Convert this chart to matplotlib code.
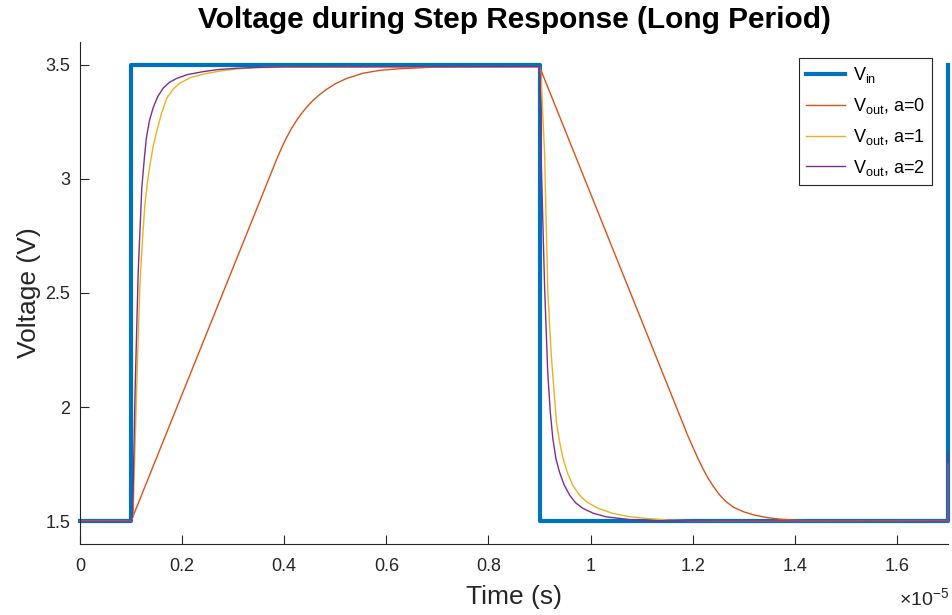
import numpy as np
import matplotlib
matplotlib.use("Agg")
import matplotlib.pyplot as plt
from matplotlib.ticker import FuncFormatter

plt.rcParams['font.family'] = ['Liberation Sans', 'DejaVu Sans']
plt.rcParams['mathtext.fontset'] = 'custom'
plt.rcParams['mathtext.rm'] = 'Liberation Sans'
plt.rcParams['mathtext.it'] = 'Liberation Sans:italic'
plt.rcParams['mathtext.bf'] = 'Liberation Sans:bold'

# times in microseconds
t_in = [0.0, 1.0, 1.0, 9.0, 9.0, 17.0, 17.0]
v_in = [1.5, 1.5, 3.5, 3.5, 1.5, 1.5, 3.5]

t_a0 = [0.0, 1.0, 3.85, 3.95, 4.05, 4.15, 4.25, 4.35, 4.45, 4.55, 4.68, 4.82, 5.0,
        5.22, 5.54, 5.85, 6.2, 6.85, 7.6, 9.0,
        11.8, 11.9, 12.0, 12.1, 12.2, 12.3, 12.4, 12.52, 12.65, 12.8, 13.0, 13.2,
        13.45, 13.7, 14.0, 14.4, 15.0, 17.0]
v_a0 = [1.5, 1.5, 3.085, 3.137, 3.183, 3.224, 3.259, 3.29, 3.317, 3.341, 3.367,
        3.391, 3.417, 3.44, 3.463, 3.475, 3.482, 3.489, 3.491, 3.492,
        1.933, 1.877, 1.826, 1.776, 1.73, 1.689, 1.654, 1.617, 1.586, 1.561, 1.541,
        1.527, 1.516, 1.509, 1.504, 1.501, 1.5, 1.5]

t_a1 = [0.0, 1.0, 1.04, 1.11, 1.17, 1.22, 1.27, 1.32, 1.37, 1.43, 1.50, 1.60, 1.70,
        1.82, 1.96, 2.15, 2.41, 2.75, 3.07, 3.4, 4.0, 9.0, 9.03, 9.10, 9.16, 9.23,
        9.33, 9.40, 9.46, 9.55, 9.65, 9.78, 9.92, 10.15, 10.44, 10.75, 11.09, 11.5,
        12.0, 17.0, 17.0]
v_a1 = [1.5, 1.5, 1.52, 2.083, 2.52, 2.72, 2.886, 2.985, 3.06, 3.14, 3.207, 3.29,
        3.354, 3.393, 3.42, 3.443, 3.459, 3.473, 3.482, 3.487, 3.49, 3.492, 3.45,
        3.105, 2.52, 2.228, 1.935, 1.84, 1.775, 1.71, 1.658, 1.615, 1.585, 1.556,
        1.534, 1.52, 1.512, 1.505, 1.502, 1.5, 1.75]

t_a2 = [0.0, 1.0, 1.03, 1.08, 1.14, 1.21, 1.26, 1.30, 1.36, 1.43, 1.52, 1.63, 1.75,
        1.89, 2.1, 2.41, 2.7, 3.07, 3.5, 4.0, 9.0, 9.01, 9.03, 9.10, 9.16, 9.21,
        9.26, 9.32, 9.39, 9.48, 9.59, 9.71, 9.85, 10.05, 10.31, 10.76, 11.2, 17.0,
        17.0]
v_a2 = [1.5, 1.5, 1.52, 2.08, 2.593, 2.96, 3.09, 3.18, 3.255, 3.31, 3.36, 3.398,
        3.423, 3.44, 3.457, 3.47, 3.479, 3.485, 3.489, 3.491, 3.492, 3.45, 3.105,
        2.52, 2.155, 1.98, 1.863, 1.775, 1.716, 1.66, 1.614, 1.58, 1.556, 1.535,
        1.519, 1.507, 1.502, 1.5, 1.8]

labels = [r'V$_{\mathrm{in}}$', r'V$_{\mathrm{out}}$, a=0',
          r'V$_{\mathrm{out}}$, a=1', r'V$_{\mathrm{out}}$, a=2']

fig = plt.figure(figsize=(9.52, 6.15), dpi=100)
ax = fig.add_axes([80 / 952, 1 - 544 / 615, 868 / 952, 502 / 615])

us = 1e-6
ax.plot(np.array(t_in) * us, v_in, color='#0072BD', lw=3, label=labels[0], clip_on=False)
ax.plot(np.array(t_a0) * us, v_a0, color='#D95319', lw=1, label=labels[1], clip_on=False)
ax.plot(np.array(t_a1) * us, v_a1, color='#EDB120', lw=1, label=labels[2], clip_on=False)
ax.plot(np.array(t_a2) * us, v_a2, color='#7E2F8E', lw=1, label=labels[3], clip_on=False)

ax.set_xlim(0, 1.7e-5)
ax.set_ylim(1.4, 3.6)
ax.set_xticks(np.arange(0, 1.61e-5, 0.2e-5))
ax.set_yticks([1.5, 2, 2.5, 3, 3.5])
ax.xaxis.set_major_formatter(FuncFormatter(lambda v, _: '%g' % round(v / 1e-5, 2)))
ax.yaxis.set_major_formatter(FuncFormatter(lambda v, _: '%g' % v))

for s in ['top', 'right']:
    ax.spines[s].set_visible(False)
for s in ['left', 'bottom']:
    ax.spines[s].set_color('#262626')
    ax.spines[s].set_linewidth(0.8)
ax.tick_params(direction='in', length=6.5, width=0.8, colors='#262626',
               labelsize=13)
ax.tick_params(axis='x', pad=10)
ax.tick_params(axis='y', pad=7)

ax.set_xlabel('Time (s)', fontsize=19, color='#262626', labelpad=7)
ax.set_ylabel('Voltage (V)', fontsize=19, color='#262626', labelpad=3)
ax.set_title('Voltage during Step Response (Long Period)', fontsize=21.5,
             fontweight='bold', pad=10)

fig.text(0.997, 1 - 598 / 615, r'$\times$10$^{-5}$', ha='right', va='center',
         fontsize=14, color='#262626')

leg = ax.legend(loc='upper right', bbox_to_anchor=(932 / 952, 1 - 58 / 615),
                bbox_transform=fig.transFigure, borderaxespad=0, fontsize=13,
                fancybox=False, framealpha=1, edgecolor='#262626',
                handlelength=2.2, handletextpad=0.4, labelspacing=0.6,
                borderpad=0.4)
leg.get_frame().set_linewidth(0.8)

fig.savefig('out.png', dpi=100)
